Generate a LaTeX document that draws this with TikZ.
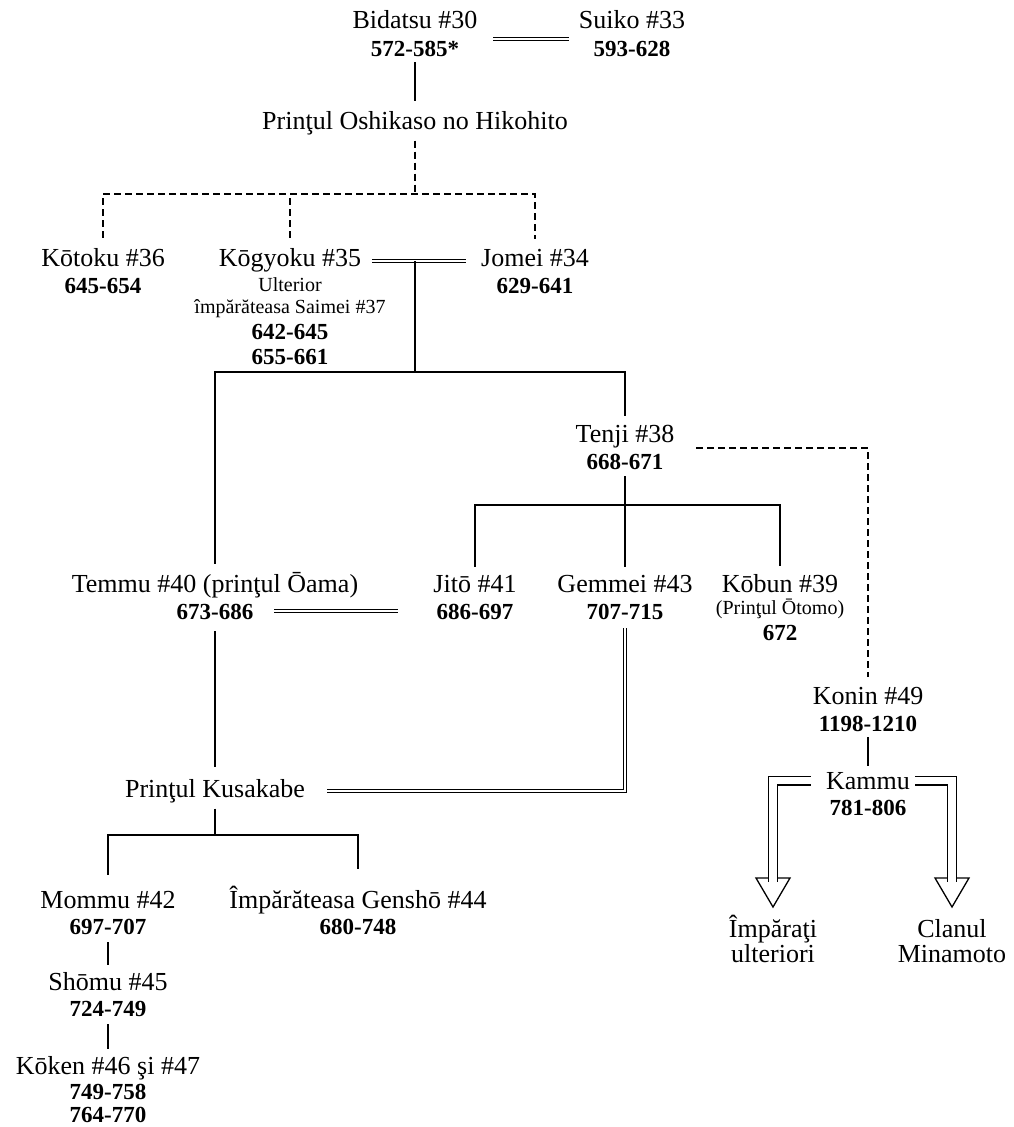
\documentclass[tikz,border=0pt]{standalone}
\usepackage{fontspec}
\setmainfont{Liberation Serif}
\usetikzlibrary{calc}
\newcommand\fnm{\fontsize{26}{28}\selectfont}
\newcommand\fdt{\bfseries\fontsize{23}{25}\selectfont}
\newcommand\fsm{\fontsize{20}{22}\selectfont}
\tikzset{
  nm/.style={inner sep=0pt, anchor=base, font=\fnm},
  dt/.style={inner sep=0pt, anchor=base, font=\fdt},
  sm/.style={inner sep=0pt, anchor=base, font=\fsm},
  ln/.style={line width=1.3pt, black},
  dsh/.style={line width=1.3pt, black, dash pattern=on 7pt off 4pt},
  dbl/.style={line width=1.1pt, black, double=white, double distance=1.8pt},
  arw/.style={line width=1.2pt, black, double=white, double distance=7.5pt},
}
\begin{document}
\begin{tikzpicture}[x=1pt,y=-1pt]
\fill[white] (0,0) rectangle (1013,1127);
\useasboundingbox (0,0) rectangle (1013,1127);

% persons
\node[nm] (bid) at (415,28) {Bidatsu \#30};
\node[dt] (bidd) at (415,56) {572-585*};
\node[nm] (sui) at (632,28) {Suiko \#33};
\node[dt] (suid) at (632,56) {593-628};
\node[nm] (osh) at (415,129) {Prinţul Oshikaso no Hikohito};
\node[nm] (kot) at (103,266) {Kōtoku \#36};
\node[dt] (kotd) at (103,293) {645-654};
\node[nm] (kog) at (290,266) {Kōgyoku \#35};
\node[sm] (kogu) at (290,291) {Ulterior};
\node[sm] (koga) at (290,313) {împărăteasa Saimei \#37};
\node[dt] (kogd1) at (290,339) {642-645};
\node[dt] (kogd2) at (290,364) {655-661};
\node[nm] (jom) at (535,266) {Jomei \#34};
\node[dt] (jomd) at (535,293) {629-641};
\node[nm] (ten) at (625,442) {Tenji \#38};
\node[dt] (tend) at (625,469) {668-671};
\node[nm] (tem) at (215,592) {Temmu \#40 (prinţul Ōama)};
\node[dt] (temd) at (215,619) {673-686};
\node[nm] (jit) at (475,592) {Jitō \#41};
\node[dt] (jitd) at (475,619) {686-697};
\node[nm] (gem) at (625,592) {Gemmei \#43};
\node[dt] (gemd) at (625,619) {707-715};
\node[nm] (kob) at (780,592) {Kōbun \#39};
\node[sm] (kobp) at (780,614) {(Prinţul Ōtomo)};
\node[dt] (kobd) at (780,640) {672};
\node[nm] (kon) at (868,704) {Konin \#49};
\node[dt] (kond) at (868,731) {1198-1210};
\node[nm] (kam) at (868,789) {Kammu};
\node[dt] (kamd) at (868,815) {781-806};
\node[nm] (kus) at (215,797) {Prinţul Kusakabe};
\node[nm] (mom) at (108,908) {Mommu \#42};
\node[dt] (momd) at (108,934) {697-707};
\node[nm] (gen) at (358,908) {Împărăteasa Genshō \#44};
\node[dt] (gend) at (358,934) {680-748};
\node[nm] (sho) at (108,990) {Shōmu \#45};
\node[dt] (shod) at (108,1016) {724-749};
\node[nm] (kok) at (108,1074) {Kōken \#46 şi \#47};
\node[dt] (kokd1) at (108,1099) {749-758};
\node[dt] (kokd2) at (108,1122) {764-770};
\node[nm] (imp) at (773,937) {Împăraţi};
\node[nm] (imp2) at (773,962) {ulteriori};
\node[nm] (cla) at (952,937) {Clanul};
\node[nm] (cla2) at (952,962) {Minamoto};

% junction coordinates
\coordinate (bsL) at (493,39);
\coordinate (bsR) at (569,39);
\coordinate (db) at (415,194);
\coordinate (kjL) at (372,261);
\coordinate (kjR) at (466,261);
\coordinate (mk) at (415,261);
\coordinate (bar) at (415,372);
\coordinate (tb) at (625,505);
\coordinate (tdL) at (696,448);
\coordinate (tjL) at (274,611);
\coordinate (tjR) at (398,611);
\coordinate (kb) at (215,835);
\coordinate (aL) at (773,882);
\coordinate (aR) at (952,882);

% marriages
\draw[dbl] (bsL) -- (bsR);
\draw[dbl] (kjL) -- (kjR);
\draw[dbl] (tjL) -- (tjR);
\draw[dbl, shorten <=9pt, shorten >=22pt] (gemd.south) |- (kus.east);

% descent
\draw[ln, shorten <=6pt, shorten >=10pt] (bidd.south) -- (osh.north);
\draw[dsh, shorten <=6pt] (osh.south) -- (db);
\draw[dsh, shorten <=10pt, shorten >=10pt] (kot.north) -- (kot.north |- db) -- (jom.north |- db) -- (jom.north);
\draw[dsh, shorten <=10pt] (kog.north) -- (kog.north |- db);
\draw[ln] (mk) -- (bar);
\draw[ln, shorten <=8pt, shorten >=9pt] (tem.north) -- (tem.north |- bar) -- (ten.north |- bar) -- (ten.north);
\draw[ln, shorten <=7pt, shorten >=8pt] (tend.south) -- (gem.north);
\draw[ln, shorten <=8pt, shorten >=8pt] (jit.north) -- (jit.north |- tb) -- (kob.north |- tb) -- (kob.north);
\draw[dsh, shorten >=10pt] (tdL) -| (kon.north);
\draw[ln, shorten <=12pt, shorten >=12pt] (temd.south) -- (kus.north);
\draw[ln, shorten <=6pt] (kus.south) -- (kus.south |- kb);
\draw[ln, shorten <=16pt, shorten >=16pt] (mom.north) -- (mom.north |- kb) -- (gen.north |- kb) -- (gen.north);
\draw[ln, shorten <=8pt, shorten >=7pt] (momd.south) -- (sho.north);
\draw[ln, shorten <=8pt, shorten >=7pt] (shod.south) -- (kok.north);
\draw[ln, shorten <=6pt, shorten >=6pt] (kond.south) -- (kam.north);

% arrows to descendants
\draw[ln] ($(aL)+(-17,-4)$) -- ($(aL)+(17,-4)$) -- ($(aL)+(0,25)$) -- cycle;
\draw[ln] ($(aR)+(-17,-4)$) -- ($(aR)+(17,-4)$) -- ($(aR)+(0,25)$) -- cycle;
\draw[arw] ([xshift=-15pt]kam.west) -| (aL);
\draw[arw] ([xshift=5pt]kam.east) -| (aR);
\end{tikzpicture}
\end{document}
